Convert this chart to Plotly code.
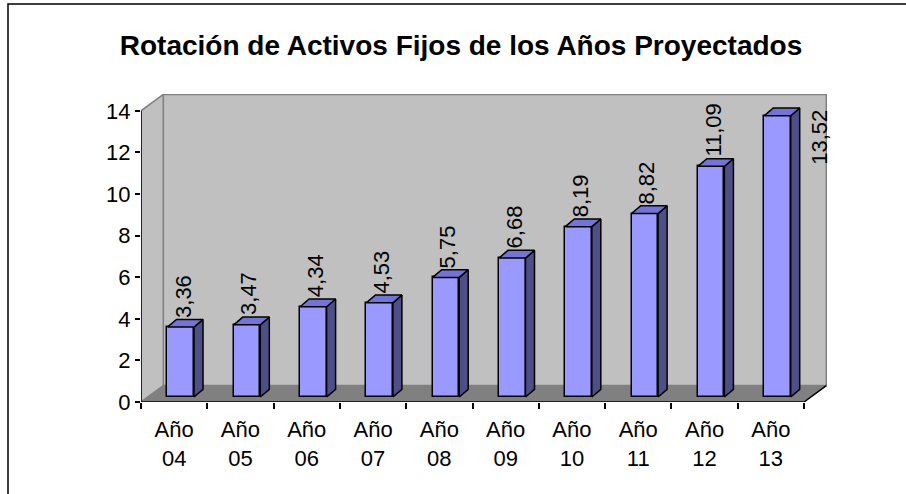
import plotly.graph_objects as go

# ---------------- data ----------------
categories = ["Año 04", "Año 05", "Año 06", "Año 07", "Año 08",
              "Año 09", "Año 10", "Año 11", "Año 12", "Año 13"]
values = [3.36, 3.47, 4.34, 4.53, 5.75, 6.68, 8.19, 8.82, 11.09, 13.52]
value_labels = [f"{v:.2f}".replace(".", ",") for v in values]
tick_text = [c.replace(" ", "<br>") for c in categories]
y_ticks = [0, 2, 4, 6, 8, 10, 12, 14]
title_text = "Rotación de Activos Fijos de los Años Proyectados"

# ---------------- geometry (data units) ----------------
W, H = 906, 494
ML, MR, MT, MB = 141, 79, 94, 92
PX_X = 66.3          # px per category
PX_Y = 20.8          # px per value unit
plot_w = W - ML - MR
plot_h = H - MT - MB
x_range = [-0.5, -0.5 + plot_w / PX_X]
y_range = [0, plot_h / PX_Y]
YMAX = y_ticks[-1]
N = len(values)

DEP_X = 22.3 / PX_X  # full depth of the 3D box
DEP_Y = 16.4 / PX_Y
FR_X = 6.6 / PX_X    # front face offset of bars
FR_Y = 5.0 / PX_Y
BD_X = 9.0 / PX_X    # bar depth
BD_Y = 7.7 / PX_Y
BW = 0.4             # bar width

FONT = "Arial, Liberation Sans, sans-serif"
FS = 22
FRONT = "#9999FF"
TOP = "#7474D6"
SIDE = "#4F4F88"
WALL = "#C0C0C0"
FLOOR = "#808080"
EDGE = "#808080"

fig = go.Figure()

# front faces
fig.add_trace(go.Bar(
    x=[i + FR_X for i in range(N)], y=values, base=FR_Y, width=BW,
    marker=dict(color=FRONT, line=dict(color="black", width=1.5)),
    hoverinfo="skip", showlegend=False))

# side and top faces
for i, v in enumerate(values):
    xl = i + FR_X - BW / 2
    xr = i + FR_X + BW / 2
    yb = FR_Y
    yt = FR_Y + v
    fig.add_trace(go.Scatter(
        x=[xr, xr, xr + BD_X, xr + BD_X, xr],
        y=[yb, yt, yt + BD_Y, yb + BD_Y, yb],
        fill="toself", fillcolor=SIDE, mode="lines",
        line=dict(color="black", width=1.5), hoverinfo="skip", showlegend=False))
    fig.add_trace(go.Scatter(
        x=[xl, xr, xr + BD_X, xl + BD_X, xl],
        y=[yt, yt, yt + BD_Y, yt + BD_Y, yt],
        fill="toself", fillcolor=TOP, mode="lines",
        line=dict(color="black", width=1.5), hoverinfo="skip", showlegend=False))

# invisible trace for tick axis
fig.add_trace(go.Scatter(x=[x_range[0]], y=[0], xaxis="x2", mode="markers",
                         marker=dict(opacity=0), hoverinfo="skip", showlegend=False))

shapes = []
# back wall
shapes.append(dict(type="path", xref="x", yref="y", layer="below",
                   path=f"M {-0.5+DEP_X},{DEP_Y} L {N-0.5+DEP_X},{DEP_Y} L {N-0.5+DEP_X},{YMAX+DEP_Y} L {-0.5+DEP_X},{YMAX+DEP_Y} Z",
                   fillcolor=WALL, line=dict(color=EDGE, width=1.5)))
# side wall
shapes.append(dict(type="path", xref="x", yref="y", layer="below",
                   path=f"M -0.5,0 L -0.5,{YMAX} L {-0.5+DEP_X},{YMAX+DEP_Y} L {-0.5+DEP_X},{DEP_Y} Z",
                   fillcolor=WALL, line=dict(color=EDGE, width=1.5)))
# floor
shapes.append(dict(type="path", xref="x", yref="y", layer="below",
                   path=f"M -0.5,0 L {N-0.5},0 L {N-0.5+DEP_X},{DEP_Y} L {-0.5+DEP_X},{DEP_Y} Z",
                   fillcolor=FLOOR, line=dict(color=EDGE, width=1)))
# axis lines
shapes.append(dict(type="line", xref="x", yref="y", x0=-0.5, y0=0, x1=-0.5, y1=YMAX,
                   line=dict(color="black", width=1.5)))
shapes.append(dict(type="line", xref="x", yref="y", x0=-0.5, y0=0, x1=N - 0.5, y1=0,
                   line=dict(color="black", width=1.5)))
shapes.append(dict(type="line", xref="x", yref="y", x0=N - 0.5, y0=0, x1=N - 0.5 + DEP_X, y1=DEP_Y,
                   line=dict(color="black", width=1.5)))
# outer border of chart area
shapes.append(dict(type="rect", xref="paper", yref="paper",
                   x0=(8 - ML) / plot_w, x1=(W + 20 - ML) / plot_w,
                   y0=(MT + plot_h - (H + 20)) / plot_h, y1=(MT + plot_h - 4) / plot_h,
                   line=dict(color="black", width=1.5), fillcolor="rgba(0,0,0,0)"))

annotations = []
LABEL_H = 50 / PX_Y
for i, (v, t) in enumerate(zip(values, value_labels)):
    top = FR_Y + v + BD_Y
    lab_y = v + DEP_Y
    if lab_y + LABEL_H <= y_range[1]:
        annotations.append(dict(x=i + FR_X, y=lab_y, xref="x", yref="y", text=t,
                                textangle=-90, showarrow=False, xanchor="center",
                                yanchor="bottom", xshift=2, yshift=-4,
                                font=dict(family=FONT, size=FS, color="black")))
    else:
        annotations.append(dict(x=i + FR_X + BW / 2 + BD_X, y=top, xref="x", yref="y", text=t,
                                textangle=-90, showarrow=False, xanchor="left",
                                yanchor="top", xshift=5, yshift=0,
                                font=dict(family=FONT, size=FS, color="black")))

fig.update_layout(
    width=W, height=H,
    margin=dict(l=ML, r=MR, t=MT, b=MB, autoexpand=False),
    paper_bgcolor="white", plot_bgcolor="rgba(0,0,0,0)",
    title=dict(text=f"<b>{title_text}</b>", x=461 / W, xanchor="center",
               y=1 - 45 / H, yanchor="middle", xref="container",
               yref="container", font=dict(family=FONT, size=28, color="black")),
    xaxis=dict(range=x_range, tickvals=list(range(N)), ticktext=tick_text,
               showgrid=False, zeroline=False, showline=False, ticks="outside",
               ticklen=8, tickcolor="rgba(0,0,0,0)",
               tickfont=dict(family=FONT, size=FS, color="black"), fixedrange=True),
    xaxis2=dict(range=x_range, overlaying="x", anchor="y", side="bottom",
                tickvals=[i - 0.5 for i in range(N + 1)], showticklabels=False,
                ticks="outside", ticklen=6, tickwidth=1.5, tickcolor="black",
                showgrid=False, zeroline=False, showline=False),
    yaxis=dict(range=y_range, tickvals=y_ticks, showgrid=False, zeroline=False,
               showline=False, ticks="outside", ticklen=5, tickwidth=1.5,
               tickcolor="black", tickfont=dict(family=FONT, size=FS, color="black")),
    shapes=shapes, annotations=annotations, bargap=0, showlegend=False,
)

fig.write_html("out.html", config={"displayModeBar": False},
               post_script="document.body.style.margin='0';document.body.style.overflow='hidden';")
